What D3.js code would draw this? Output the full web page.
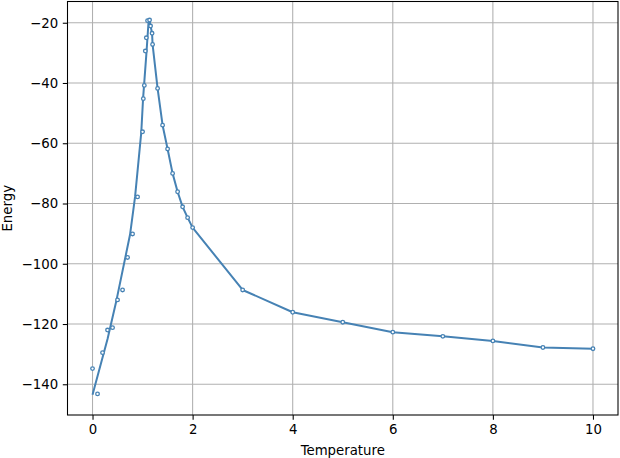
<!DOCTYPE html>
<html><head><meta charset="utf-8">
<script src="https://cdn.jsdelivr.net/npm/d3@7"></script>
<style>body{margin:0;background:#fff}svg{display:block}text{font-family:"DejaVu Sans",sans-serif}</style>
</head><body>
<script>
// Measured data points (hollow markers)
const pointT = [0, 0.1, 0.2, 0.3, 0.4, 0.5, 0.6, 0.7, 0.8, 0.9, 1.0, 1.015, 1.035, 1.055, 1.075, 1.1, 1.14, 1.16, 1.19, 1.2, 1.3, 1.4, 1.5, 1.6, 1.7, 1.8, 1.9, 2.0, 3, 4, 5, 6, 7, 8, 9, 10];
const pointE = [-134.8, -143.2, -129.5, -122, -121.2, -112, -108.7, -97.9, -90.1, -77.8, -56.2, -45.2, -40.8, -29.4, -25, -19.3, -19.1, -21.1, -23.5, -27.2, -41.8, -54, -61.9, -70, -76.1, -81.1, -84.7, -88, -108.7, -116.1, -119.4, -122.7, -124.1, -125.6, -127.8, -128.2];
// Line series
const lineT = [0, 0.3, 0.48, 0.75, 0.85, 0.975, 1.01, 1.08, 1.12, 1.14, 1.16, 1.19, 1.2, 1.3, 1.4, 1.5, 1.6, 1.7, 1.8, 1.9, 2.0, 3, 4, 5, 6, 7, 8, 9, 10];
const lineE = [-143.5, -125, -112, -90.3, -77.8, -56.2, -45.2, -29.4, -19.5, -19.1, -21.1, -23.5, -27.2, -41.8, -54, -61.9, -70, -76.1, -81.1, -84.7, -88, -108.7, -116.1, -119.4, -122.7, -124.1, -125.6, -127.8, -128.2];
const xTicks = [0, 2, 4, 6, 8, 10];
const yTicks = [-140, -120, -100, -80, -60, -40, -20];
const xLabel = "Temperature", yLabel = "Energy";

const W = 620, H = 458;
const L = 67.5, R = 618, T = 1.5, B = 415;
const color = "#4682b4";
const svg = d3.select("body").append("svg").attr("width", W).attr("height", H);
const x = d3.scaleLinear().domain([-0.5, 10.5]).range([L, R]);
const y = d3.scaleLinear().domain([-150.2, -12.95]).range([B, T]);
const fmt = d => d < 0 ? "\u2212" + Math.abs(d) : String(d);

// grid
const g = svg.append("g");
g.selectAll(".gx").data(xTicks).join("line").attr("x1", d => x(d)).attr("x2", d => x(d)).attr("y1", T).attr("y2", B).attr("stroke", "#b0b0b0").attr("stroke-width", 1.07);
g.selectAll(".gy").data(yTicks).join("line").attr("y1", d => y(d)).attr("y2", d => y(d)).attr("x1", L).attr("x2", R).attr("stroke", "#b0b0b0").attr("stroke-width", 1.07);

// axes
const xa = svg.append("g").attr("transform", `translate(0,${B})`).call(d3.axisBottom(x).tickValues(xTicks).tickFormat(fmt).tickSize(4.7).tickPadding(4.7));
const ya = svg.append("g").attr("transform", `translate(${L},0)`).call(d3.axisLeft(y).tickValues(yTicks).tickFormat(fmt).tickSize(4.7).tickPadding(4.7));
[xa, ya].forEach(a => { a.select(".domain").remove(); a.selectAll("text").attr("font-size", 13.3).attr("fill", "#000").style("font-family", "DejaVu Sans"); a.selectAll("line").attr("stroke", "#000").attr("stroke-width", 1.07); });

// line
const line = d3.line().x((d, i) => x(lineT[i])).y((d, i) => y(lineE[i]));
svg.append("path").datum(lineE).attr("d", line).attr("fill", "none").attr("stroke", color).attr("stroke-width", 2).attr("stroke-linejoin", "round");

// markers
svg.selectAll(".pt").data(pointE).join("circle").attr("cx", (d, i) => x(pointT[i])).attr("cy", d => y(d)).attr("r", 1.8).attr("fill", "#fff").attr("stroke", color).attr("stroke-width", 1.3);

// frame
svg.append("rect").attr("x", L).attr("y", T).attr("width", R - L).attr("height", B - T).attr("fill", "none").attr("stroke", "#000").attr("stroke-width", 1.07);

svg.append("text").attr("x", (L + R) / 2).attr("y", 455).attr("text-anchor", "middle").attr("font-size", 13.3).text(xLabel);
svg.append("text").attr("transform", `translate(12,${(T + B) / 2}) rotate(-90)`).attr("text-anchor", "middle").attr("font-size", 13.3).text(yLabel);
</script>
</body></html>
